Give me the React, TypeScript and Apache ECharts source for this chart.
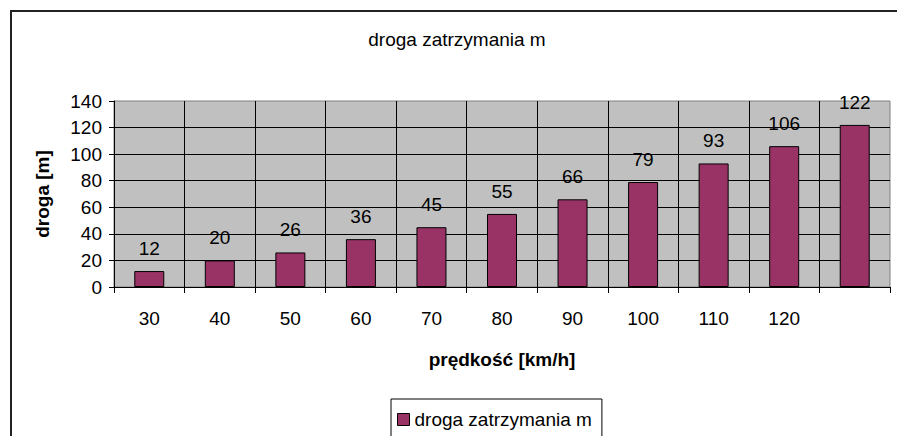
import React, { useEffect, useRef } from "react";
import * as echarts from "echarts";

const categories = ["30", "40", "50", "60", "70", "80", "90", "100", "110", "120", ""];
const values = [12, 20, 26, 36, 45, 55, 66, 79, 93, 106, 122];
const seriesName = "droga zatrzymania m";
const chartTitle = "droga zatrzymania m";
const xTitle = "prędkość [km/h]";
const yTitle = "droga [m]";

const FONT = "'Liberation Sans', Arial, sans-serif";

export default function App() {
  const ref = useRef<HTMLDivElement>(null);
  useEffect(() => {
    if (!ref.current) return;
    const chart = echarts.init(ref.current, undefined, { renderer: "svg" });
    chart.setOption({
      animation: false,
      backgroundColor: "#ffffff",
      textStyle: { fontFamily: FONT },
      graphic: [
        {
          type: "rect",
          shape: { x: 11, y: 11, width: 1000, height: 1000 },
          style: { fill: "none", stroke: "#222", lineWidth: 2 },
          silent: true,
          z: 0,
        },
        {
          type: "text",
          x: 457,
          y: 39,
          style: {
            text: chartTitle,
            font: `19px ${FONT}`,
            fill: "#000",
            textAlign: "center",
            textVerticalAlign: "middle",
          },
        },
      ],
      legend: {
        left: 391,
        top: 399,
        orient: "horizontal",
        icon: "rect",
        itemWidth: 12,
        itemHeight: 12,
        itemGap: 5,
        padding: [11, 10, 30, 6],
        borderColor: "#000",
        borderWidth: 1,
        borderRadius: 0,
        textStyle: { fontFamily: FONT, fontSize: 19, color: "#000", padding: [0, 0, 0, 0] },
        itemStyle: { borderColor: "#000", borderWidth: 1 },
        data: [seriesName],
      },
      grid: {
        left: 114,
        right: 7,
        top: 101,
        bottom: 149,
        show: true,
        backgroundColor: "#C0C0C0",
        borderColor: "#808080",
        borderWidth: 1,
        containLabel: false,
      },
      xAxis: {
        type: "category",
        data: categories,
        boundaryGap: true,
        name: xTitle,
        nameLocation: "middle",
        nameGap: 63,
        nameTextStyle: { fontFamily: FONT, fontSize: 19, fontWeight: "bold", color: "#000" },
        axisLine: { lineStyle: { color: "#000", width: 1 } },
        axisTick: { show: true, length: 6, lineStyle: { color: "#000" } },
        axisLabel: { fontFamily: FONT, fontSize: 19, color: "#000", margin: 22, interval: 0 },
        splitLine: { show: true, showMaxLine: false, lineStyle: { color: "#000", width: 1 } },
      },
      yAxis: {
        type: "value",
        min: 0,
        max: 140,
        interval: 20,
        name: yTitle,
        nameLocation: "middle",
        nameGap: 62,
        nameRotate: 90,
        nameTextStyle: { fontFamily: FONT, fontSize: 19, fontWeight: "bold", color: "#000" },
        axisLine: { show: true, lineStyle: { color: "#000", width: 1 } },
        axisTick: { show: true, length: 5, lineStyle: { color: "#000" } },
        axisLabel: { fontFamily: FONT, fontSize: 19, color: "#000", margin: 12 },
        splitLine: { show: true, showMaxLine: false, lineStyle: { color: "#000", width: 1 } },
      },
      series: [
        {
          name: seriesName,
          type: "bar",
          data: values,
          barWidth: 30,
          itemStyle: { color: "#993366", borderColor: "#000", borderWidth: 1 },
          label: {
            show: true,
            position: "top",
            distance: 13,
            fontFamily: FONT,
            fontSize: 19,
            color: "#000",
          },
        },
      ],
    });
    return () => chart.dispose();
  }, []);
  return (
    <div
      ref={ref}
      style={{ position: "fixed", left: 0, top: 0, width: 897, height: 436 }}
    />
  );
}
